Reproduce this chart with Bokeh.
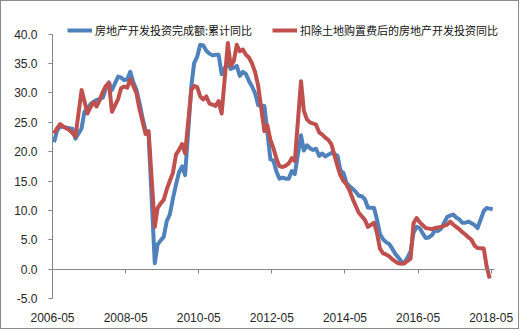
import pandas as pd
from bokeh.plotting import figure
from bokeh.models import (ColumnDataSource, Range1d, FixedTicker, DatetimeTickFormatter,
                          DatetimeAxis, NumeralTickFormatter, Legend, LegendItem,
                          CustomJSTickFormatter)
from bokeh.embed import file_html
from bokeh.resources import INLINE

# ---------------- data ----------------
series_names = ["房地产开发投资完成额:累计同比", "扣除土地购置费后的房地产开发投资同比"]
tick_labels = ["2006-05", "2008-05", "2010-05", "2012-05", "2014-05", "2016-05", "2018-05"]
y_ticks = [-5, 0, 5, 10, 15, 20, 25, 30, 35, 40]

# monthly values (Jan is not published: Jan-Feb cumulative reported in Feb)
blue_2006 = [21.6, 23.6, 24.3, 24.2, 24.1, 24.0, 23.9, 22.2]            # May-Dec
blue_2007 = [24.0, 26.8, 27.4, 28.1, 28.5, 28.8, 29.0, 29.2, 30.8, 31.8, 30.5]
blue_2008 = [32.8, 32.6, 32.2, 32.3, 33.6, 31.8, 30.6, 28.3, 25.8, 23.6, 22.9]
blue_2009 = [1.0, 4.2, 4.9, 5.5, 8.2, 9.3, 12.0, 14.4, 16.5, 17.5, 16.0]
blue_2010 = [31.1, 35.1, 36.2, 38.2, 38.1, 37.2, 36.7, 36.4, 36.5, 36.5, 33.2]
blue_2011 = [35.2, 34.1, 34.3, 34.6, 32.9, 33.6, 33.2, 32.0, 31.1, 29.9, 27.9]
blue_2012 = [27.8, 23.5, 18.7, 18.5, 16.6, 15.4, 15.6, 15.4, 15.4, 16.7, 16.2]
blue_2013 = [22.8, 20.2, 21.1, 20.6, 20.3, 20.5, 19.3, 19.7, 19.2, 19.5, 19.8]
blue_2014 = [19.3, 16.8, 16.4, 14.7, 14.1, 13.7, 13.2, 12.5, 12.4, 11.9, 10.5]
blue_2015 = [10.4, 8.5, 6.0, 5.1, 4.6, 4.3, 3.5, 2.6, 2.0, 1.3, 1.0]
blue_2016 = [3.0, 6.2, 7.2, 7.0, 6.1, 5.3, 5.4, 5.8, 6.6, 6.5, 6.9]
blue_2017 = [8.9, 9.1, 9.3, 8.8, 8.5, 7.9, 7.9, 8.1, 7.8, 7.5, 7.0]
blue_2018 = [9.9, 10.4, 10.3, 10.2]                                       # Feb-May

red_2006 = [23.1, 24.0, 24.7, 24.3, 24.0, 23.7, 23.2, 22.6]
red_2007 = [30.5, 28.6, 26.5, 27.6, 28.4, 27.7, 28.8, 30.2, 31.2, 31.7, 26.8]
red_2008 = [29.0, 30.8, 31.1, 30.9, 32.3, 31.2, 30.0, 27.3, 25.2, 23.0, 23.5]
red_2009 = [7.2, 10.4, 11.2, 11.8, 13.6, 15.0, 16.4, 19.5, 20.3, 21.3, 19.7]
red_2010 = [30.5, 31.2, 31.0, 29.4, 28.9, 29.4, 28.2, 28.0, 27.8, 28.6, 26.5]
red_2011 = [38.5, 34.6, 35.4, 38.2, 37.1, 37.4, 36.5, 36.0, 35.0, 33.5, 31.2]
red_2012 = [23.5, 24.5, 22.0, 20.6, 18.8, 17.5, 17.4, 17.6, 18.0, 18.9, 18.4]
red_2013 = [32.0, 27.0, 25.5, 25.0, 24.8, 24.6, 23.3, 22.9, 22.4, 22.0, 21.3]
red_2014 = [17.5, 16.0, 15.0, 14.4, 13.4, 12.0, 10.8, 9.6, 9.0, 8.4, 7.2]
red_2015 = [7.9, 6.2, 3.5, 2.7, 2.5, 2.2, 1.7, 1.3, 1.0, 0.9, 1.0]
red_2016 = [1.8, 7.8, 8.7, 8.0, 7.5, 7.0, 6.9, 6.8, 7.0, 7.1, 7.2]
red_2017 = [7.6, 8.1, 7.6, 7.2, 6.8, 6.3, 5.9, 5.4, 5.0, 4.0, 3.6]
red_2018 = [3.5, 0.5, -1.6]                                               # Feb-Apr

blue_vals = (blue_2006 + blue_2007 + blue_2008 + blue_2009 + blue_2010 + blue_2011 + blue_2012
             + blue_2013 + blue_2014 + blue_2015 + blue_2016 + blue_2017 + blue_2018)
red_vals = (red_2006 + red_2007 + red_2008 + red_2009 + red_2010 + red_2011 + red_2012
            + red_2013 + red_2014 + red_2015 + red_2016 + red_2017 + red_2018)


def month_index(start, end):
    d = pd.date_range(start, end, freq="MS")
    return d[d.month != 1]


blue_dates = month_index("2006-05-01", "2018-05-01")
red_dates = month_index("2006-05-01", "2018-04-01")
assert len(blue_dates) == len(blue_vals) and len(red_dates) == len(red_vals)

# Excel date axis puts points between tick marks -> centre of month
half_month = pd.Timedelta(days=15)
src_b = ColumnDataSource(dict(x=blue_dates + half_month, y=blue_vals))
src_r = ColumnDataSource(dict(x=red_dates + half_month, y=red_vals))

# ---------------- figure ----------------
AX = "#868686"
TXT = "#262626"
NUM_FONT = "Liberation Sans"
CJK_FONT = "Noto Sans CJK SC"

def ms(s):
    return pd.Timestamp(s).timestamp() * 1000

tick_ms = [ms(t + "-01") for t in tick_labels]
axis_start, axis_end = ms("2006-05-01"), ms("2018-06-01")

# the frame is a little larger than the axes so that the legend is not clipped
p = figure(width=519, height=329, x_axis_type="datetime",
           x_range=Range1d(pd.Timestamp("2006-05-01"), pd.Timestamp("2018-10-01")),
           y_range=Range1d(-5, 42.0),
           output_backend="svg", toolbar_location=None,
           min_border_left=51, min_border_right=14, min_border_top=21, min_border_bottom=32)
p.background_fill_color = "white"
p.border_fill_color = "white"
p.outline_line_color = None
p.xgrid.visible = False
p.ygrid.visible = False
p.styles = {"border": "1px solid #8c8c8c"}

fmt_all = "%Y-%m"
dt_fmt = DatetimeTickFormatter(years=fmt_all, months=fmt_all, days=fmt_all, hours=fmt_all,
                               minutes=fmt_all, seconds=fmt_all, milliseconds=fmt_all,
                               microseconds=fmt_all, hourmin=fmt_all, minsec=fmt_all)

# bottom axis: labels only
xa = p.xaxis[0]
xa.ticker = FixedTicker(ticks=tick_ms)
xa.formatter = dt_fmt
xa.axis_line_color = None
xa.major_tick_line_color = None
xa.minor_tick_line_color = None
xa.major_tick_out = 0
xa.major_tick_in = 0
xa.minor_tick_out = 0
xa.major_label_standoff = 14
xa.major_label_text_font = NUM_FONT
xa.major_label_text_font_size = "12px"
xa.major_label_text_color = TXT

ya = p.yaxis[0]
ya.ticker = FixedTicker(ticks=y_ticks)
ya.formatter = NumeralTickFormatter(format="0.0")
ya.bounds = (-5, 40)
ya.axis_line_color = AX
ya.major_tick_line_color = AX
ya.minor_tick_line_color = None
ya.major_tick_out = 4
ya.major_tick_in = 0
ya.major_label_standoff = 11
ya.major_label_text_font = NUM_FONT
ya.major_label_text_font_size = "12px"
ya.major_label_text_color = TXT

# axis line crossing at y = 0 with tick marks pointing down
x0 = DatetimeAxis(fixed_location=0, ticker=FixedTicker(ticks=tick_ms),
                  formatter=CustomJSTickFormatter(code="return '';"),
                  bounds=(axis_start, axis_end))
x0.axis_line_color = AX
x0.major_tick_line_color = AX
x0.minor_tick_line_color = None
x0.major_tick_in = 4
x0.major_tick_out = 0
x0.minor_tick_in = 0
x0.minor_tick_out = 0
x0.major_label_standoff = 0
x0.major_label_text_font_size = "1px"
p.add_layout(x0, "above")

rb = p.line("x", "y", source=src_b, line_color="#4F81BD", line_width=4, line_join="round")
rr = p.line("x", "y", source=src_r, line_color="#C0504D", line_width=4, line_join="round")

legend = Legend(items=[LegendItem(label=series_names[0], renderers=[rb]),
                       LegendItem(label=series_names[1], renderers=[rr])],
                orientation="horizontal", location=(15, 260),
                border_line_color=None, background_fill_alpha=0,
                padding=0, margin=0, spacing=20,
                glyph_width=25, glyph_height=14, label_height=14, label_standoff=3,
                label_text_font=CJK_FONT, label_text_font_size="11px",
                label_text_color="#111111")
p.add_layout(legend)

open("out.html", "w").write(file_html(p, INLINE))
